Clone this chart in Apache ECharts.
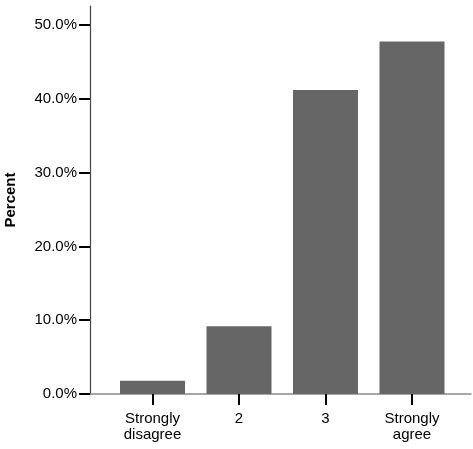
<!DOCTYPE html>
<html>
<head>
<meta charset="utf-8">
<script src="https://cdn.jsdelivr.net/npm/echarts@6/dist/echarts.min.js"></script>
<style>
html,body{margin:0;padding:0;background:#fff;}
#chart{width:473px;height:449px;}
</style>
</head>
<body>
<div id="chart"></div>
<script>
var categories = ['Strongly\ndisagree', '2', '3', 'Strongly\nagree'];
var percents = [1.8, 9.2, 41.2, 47.8];
var yTicks = [0, 10, 20, 30, 40, 50];
var yAxisTitle = 'Percent';

var chart = echarts.init(document.getElementById('chart'), null, {renderer: 'canvas'});
var font = 'Liberation Sans, Arial, Helvetica, sans-serif';
chart.setOption({
  animation: false,
  backgroundColor: '#ffffff',
  grid: {left: 90, right: 2, top: 6, bottom: 55, containLabel: false, outerBoundsMode: 'none'},
  xAxis: {
    type: 'value',
    min: -0.7225,
    max: 3.682,
    axisLine: {show: true, onZero: false, lineStyle: {color: '#8a8a8a', width: 1.5}},
    axisTick: {show: true, customValues: categories.map(function (c, i) { return i; }), length: 11, lineStyle: {color: '#000', width: 2}},
    axisLabel: {
      customValues: categories.map(function (c, i) { return i; }),
      formatter: function (v) { return categories[Math.round(v)]; },
      fontFamily: font, fontSize: 15, color: '#000', lineHeight: 16, margin: 17
    },
    splitLine: {show: false}
  },
  yAxis: {
    type: 'value',
    min: 0,
    max: 52.6,
    name: yAxisTitle,
    nameLocation: 'middle',
    nameGap: 72,
    nameTextStyle: {fontFamily: font, fontSize: 15, fontWeight: 'bold', color: '#000'},
    axisLine: {show: true, onZero: false, lineStyle: {color: '#444', width: 1.2}},
    axisTick: {show: true, customValues: yTicks, length: 11, lineStyle: {color: '#000', width: 2}},
    axisLabel: {
      customValues: yTicks,
      formatter: function (v) { return v.toFixed(1) + '%'; },
      fontFamily: font, fontSize: 15, color: '#000', margin: 13
    },
    splitLine: {show: false}
  },
  series: [{
    type: 'bar',
    data: percents.map(function (v, i) { return [i, v]; }),
    barWidth: 65,
    itemStyle: {color: '#666666'}
  }]
});
</script>
</body>
</html>
